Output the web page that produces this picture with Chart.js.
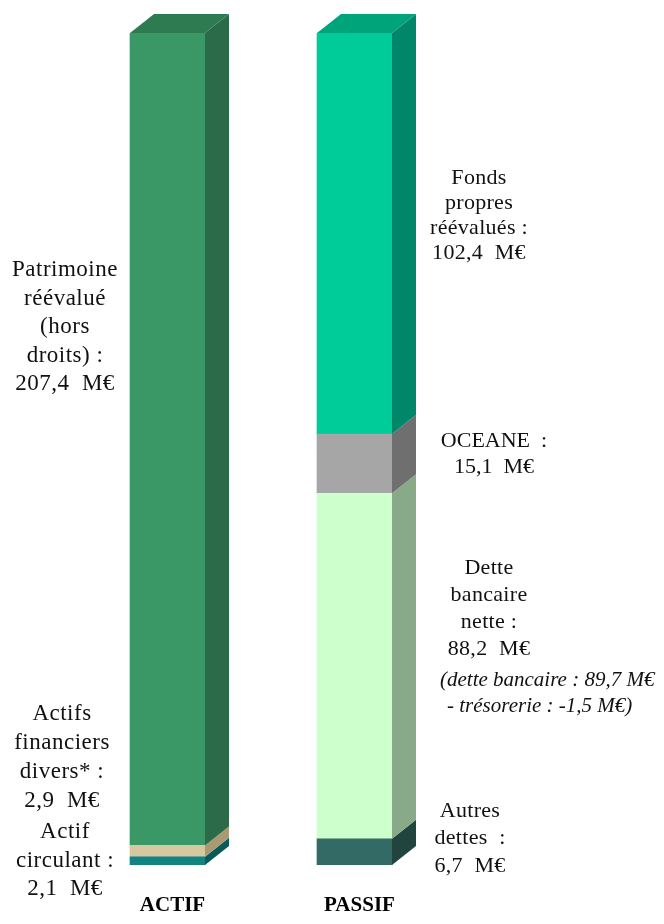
<!DOCTYPE html>
<html>
<head>
<meta charset="utf-8">
<script src="https://cdn.jsdelivr.net/npm/chart.js@4/dist/chart.umd.min.js"></script>
<style>
  html, body { margin: 0; padding: 0; background: #ffffff; }
  #wrap { width: 664px; height: 924px; }
</style>
</head>
<body>
<div id="wrap"><canvas id="c" width="664" height="924"></canvas></div>
<script>
// ---------- DATA ----------
const categories = ['ACTIF', 'PASSIF'];
// ACTIF segments, bottom to top
const actifNames  = ['Actif circulant', 'Actifs financiers divers', 'Patrimoine réévalué'];
const actifValues = [2.1, 2.9, 207.4];
// PASSIF segments, bottom to top
const passifNames  = ['Autres dettes', 'Dette bancaire nette', 'OCEANE', 'Fonds propres réévalués'];
const passifValues = [6.7, 88.2, 15.1, 102.4];

// label texts
const labelPatrimoine = ['Patrimoine', 'réévalué', '(hors', 'droits) :', '207,4  M€'];
const labelActifsFin  = ['Actifs', 'financiers', 'divers* :', '2,9  M€'];
const labelCirculant  = ['Actif', 'circulant :', '2,1  M€'];
const labelFonds      = ['Fonds', 'propres', 'réévalués :', '102,4  M€'];
const labelOceane     = ['OCEANE  :', '15,1  M€'];
const labelDette      = ['Dette', 'bancaire', 'nette :', '88,2  M€'];
const labelDetteNote  = ['(dette bancaire : 89,7 M€', '- trésorerie : -1,5 M€)'];
const labelAutres     = ['Autres', 'dettes  :', '6,7  M€'];

// ---------- STYLES ----------
const actifFront  = ['#118383', '#d6c8a0', '#3a9866'];
const actifSide   = ['#0b5a5a', '#a89a72', '#2b6b49'];
const actifTop    = ['#0f6f6f', '#bfb08a', '#2e7b52'];
const passifFront = ['#336a65', '#ccffcc', '#a6a6a6', '#00cc99'];
const passifSide  = ['#21443f', '#88aa88', '#6f6f6f', '#00876a'];
const passifTop   = ['#2a5752', '#aad4aa', '#8a8a8a', '#00a47a'];

const DEPTH_X = 24, DEPTH_Y = 19;

const datasets = [];
actifValues.forEach((v, i) => {
  datasets.push({
    label: actifNames[i], data: [v, null],
    backgroundColor: actifFront[i], sideColor: actifSide[i], topColor: actifTop[i],
    stack: 's', borderWidth: 0, barThickness: 75
  });
});
passifValues.forEach((v, i) => {
  datasets.push({
    label: passifNames[i], data: [null, v],
    backgroundColor: passifFront[i], sideColor: passifSide[i], topColor: passifTop[i],
    stack: 's', borderWidth: 0, barThickness: 75
  });
});

const textBlocks = [
  { lines: labelPatrimoine, x: 65,  y: 270, lh: 28.5, align: 'center', style: '', size: 23, ls: 0.5 },
  { lines: labelActifsFin,  x: 62,  y: 714, lh: 29,   align: 'center', style: '', size: 23, ls: 0.5 },
  { lines: labelCirculant,  x: 65,  y: 832, lh: 28.5, align: 'center', style: '', size: 23, ls: 0.5 },
  { lines: labelFonds,      x: 479, y: 178, lh: 25,   align: 'center', style: '', size: 22, ls: 0.3 },
  { lines: labelOceane,     x: 494, y: 441, lh: 26,   align: 'center', style: '', size: 22, ls: 0 },
  { lines: labelDette,      x: 489, y: 568, lh: 27,   align: 'center', style: '', size: 22, ls: 0.3 },
  { lines: labelDetteNote,  x: 440, y: 680, lh: 26,   align: 'left',   style: 'italic ', size: 21, ls: 0, dx: [0, 7] },
  { lines: labelAutres,     x: 470, y: 811, lh: 27.5, align: 'center', style: '', size: 22, ls: 0.3 }
];

const bar3d = {
  id: 'bar3d',
  afterDatasetsDraw(chart) {
    const ctx = chart.ctx;
    const topIdx = {};
    chart.data.datasets.forEach((ds, di) => {
      ds.data.forEach((v, ci) => { if (v != null && v > 0) topIdx[ci] = di; });
    });
    chart.data.datasets.forEach((ds, di) => {
      const meta = chart.getDatasetMeta(di);
      meta.data.forEach((bar, ci) => {
        if (ds.data[ci] == null) return;
        const p = bar.getProps(['x', 'y', 'base', 'width'], true);
        const x1 = p.x - p.width / 2, x2 = p.x + p.width / 2;
        const yTop = Math.min(p.y, p.base), yBot = Math.max(p.y, p.base);
        ctx.save();
        ctx.fillStyle = ds.sideColor;
        ctx.beginPath();
        ctx.moveTo(x2, yTop);
        ctx.lineTo(x2 + DEPTH_X, yTop - DEPTH_Y);
        ctx.lineTo(x2 + DEPTH_X, yBot - DEPTH_Y);
        ctx.lineTo(x2, yBot);
        ctx.closePath();
        ctx.fill();
        if (topIdx[ci] === di) {
          ctx.fillStyle = ds.topColor;
          ctx.beginPath();
          ctx.moveTo(x1, yTop);
          ctx.lineTo(x1 + DEPTH_X, yTop - DEPTH_Y);
          ctx.lineTo(x2 + DEPTH_X, yTop - DEPTH_Y);
          ctx.lineTo(x2, yTop);
          ctx.closePath();
          ctx.fill();
        }
        ctx.restore();
      });
    });
    // category labels under bars
    const xs = chart.scales.x;
    ctx.save();
    ctx.fillStyle = '#000';
    ctx.font = 'bold 21px "Liberation Serif"';
    ctx.textAlign = 'center';
    ctx.textBaseline = 'middle';
    categories.forEach((c, i) => {
      ctx.fillText(c, xs.getPixelForValue(i) + 5, 906);
    });
    ctx.restore();
    // annotations
    ctx.save();
    ctx.fillStyle = '#111';
    ctx.textBaseline = 'middle';
    textBlocks.forEach(b => {
      ctx.font = b.style + (b.size || 22) + 'px "Liberation Serif"';
      ctx.textAlign = b.align;
      if ('letterSpacing' in ctx) ctx.letterSpacing = (b.ls || 0) + 'px';
      b.lines.forEach((t, li) => {
        ctx.fillText(t, b.x + (b.dx ? b.dx[li] : 0), b.y + li * b.lh);
      });
    });
    ctx.restore();
  }
};

new Chart(document.getElementById('c'), {
  type: 'bar',
  data: { labels: categories, datasets },
  options: {
    responsive: false,
    animation: false,
    layout: { padding: { left: 74, right: 216, top: 33, bottom: 59 } },
    plugins: { legend: { display: false }, tooltip: { enabled: false } },
    scales: {
      x: { display: false, stacked: true },
      y: { display: false, stacked: true, min: 0, max: 212.4 }
    }
  },
  plugins: [bar3d]
});
</script>
</body>
</html>
